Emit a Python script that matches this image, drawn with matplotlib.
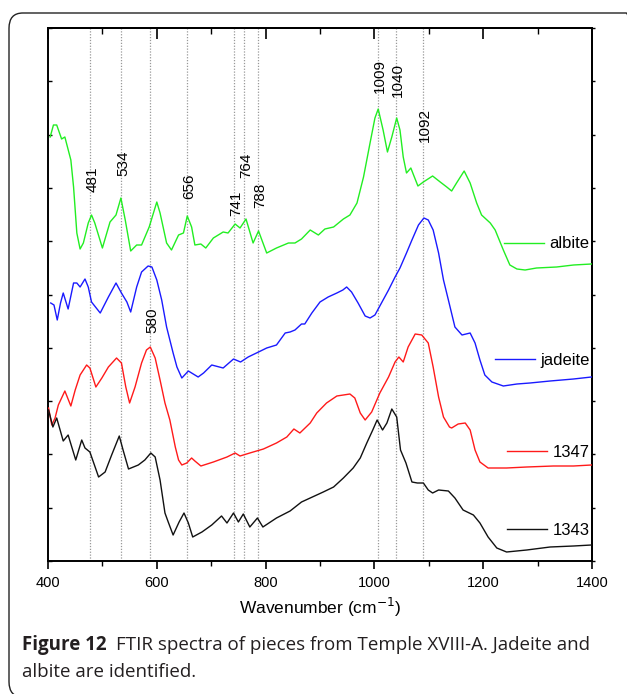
import matplotlib.pyplot as plt
import numpy as np
from matplotlib.patches import FancyBboxPatch

# spectra (wavenumber cm-1, intensity a.u.)
albite_x = [404, 410, 416, 425, 431, 442, 447, 453, 459, 465, 474, 480, 486, 500, 514, 525, 534, 542, 552, 563,
            572, 586, 600, 606, 618, 627, 640, 649, 656, 664, 670, 681, 690, 704, 722, 731, 744, 753, 764, 777,
            787, 802, 820, 842, 854, 866, 882, 897, 909, 925, 943, 955, 968, 980, 992, 1001, 1007, 1016, 1024, 1032,
            1041, 1047, 1053, 1059, 1067, 1072, 1080, 1090, 1107, 1121, 1133, 1142, 1151, 1165, 1176, 1188, 1197,
            1213, 1222, 1237, 1249, 1262, 1277, 1298, 1335, 1366, 1399]
albite_y = [424, 436, 436, 422, 424, 401, 374, 328, 312, 318, 338, 346, 338, 313, 339, 346, 363, 341, 310, 316,
            316, 334, 359, 348, 318, 311, 326, 328, 345, 334, 316, 317, 313, 323, 329, 328, 337, 333, 342, 318,
            330, 308, 313, 318, 318, 322, 331, 326, 332, 334, 342, 346, 358, 384, 418, 443, 452, 431, 409, 424,
            443, 431, 404, 388, 393, 386, 375, 379, 385, 379, 374, 370, 378, 390, 378, 358, 346,
            338, 331, 311, 296, 292, 291, 293, 294, 296, 297]

jadeite_x = [405, 411, 417, 423, 428, 437, 447, 453, 459, 468, 474, 480, 496, 511, 525, 535, 545, 552, 563, 572,
             584, 591, 600, 609, 618, 630, 637, 646, 658, 664, 676, 686, 701, 722, 741, 754, 768, 787, 802, 820,
             836, 845, 854, 866, 872, 885, 900, 915, 931, 942, 949, 958, 970, 983, 992, 1001, 1013, 1026, 1038, 1047,
             1059, 1069, 1081, 1091, 1099, 1108, 1118, 1127, 1136, 1148, 1161, 1176, 1185, 1194, 1203, 1216, 1237,
             1262, 1286, 1323, 1366, 1399]
jadeite_y = [258, 256, 241, 258, 268, 252, 278, 278, 274, 282, 274, 259, 248, 264, 278, 268, 259, 249, 274, 289,
             295, 294, 281, 261, 234, 208, 194, 183, 190, 188, 184, 188, 196, 193, 202, 199, 204, 209, 213, 216,
             228, 229, 231, 237, 237, 248, 259, 264, 268, 271, 274, 269, 258, 245, 243, 246, 258, 271, 284, 293,
             308, 321, 336, 343, 341, 331, 308, 281, 261, 234, 226, 228, 218, 201, 186, 179, 175,
             177, 178, 180, 182, 184]

s1347_x = [401, 407, 413, 419, 431, 442, 450, 459, 471, 477, 488, 499, 511, 526, 535, 543, 550, 560, 572, 581,
           588, 597, 606, 615, 624, 634, 640, 646, 655, 664, 670, 681, 704, 729, 744, 753, 771, 796, 820, 839,
           852, 863, 882, 894, 912, 931, 955, 964, 974, 983, 995, 1010, 1026, 1038, 1045, 1053, 1062, 1075, 1087,
           1099, 1108, 1118, 1127, 1138, 1142, 1154, 1167, 1176, 1185, 1194, 1209, 1243, 1280, 1329, 1366, 1399]
s1347_y = [153, 136, 143, 156, 170, 155, 171, 186, 196, 193, 174, 183, 194, 203, 198, 174, 158, 174, 198, 211,
           214, 203, 181, 158, 141, 114, 101, 96, 98, 103, 100, 95, 99, 104, 108, 105, 108, 112, 118, 124,
           132, 128, 138, 148, 158, 165, 167, 163, 148, 141, 149, 168, 184, 199, 204, 199, 214, 227, 226,
           218, 194, 164, 144, 134, 133, 137, 138, 131, 111, 99, 93, 93, 94, 95, 95, 96]

s1343_x = [401, 409, 416, 428, 437, 451, 462, 468, 477, 493, 505, 517, 531, 538, 548, 566, 578, 589, 597, 606,
           615, 621, 630, 641, 650, 658, 666, 683, 701, 719, 729, 741, 750, 759, 771, 785, 795, 820, 845, 866,
           882, 906, 925, 943, 961, 974, 986, 997, 1005, 1015, 1023, 1032, 1041, 1048, 1058, 1069, 1079, 1090,
           1099, 1107, 1118, 1136, 1148, 1163, 1182, 1194, 1209, 1225, 1243, 1280, 1323, 1366, 1399]
s1343_y = [151, 134, 143, 120, 126, 101, 121, 113, 109, 84, 89, 106, 125, 111, 92, 96, 101, 108, 104, 81,
           48, 39, 26, 39, 48, 38, 24, 29, 36, 45, 38, 48, 39, 47, 34, 43, 34, 43, 50, 59,
           63, 69, 74, 83, 93, 103, 118, 131, 141, 131, 138, 152, 144, 111, 98, 79, 78, 78,
           71, 68, 71, 70, 63, 51, 46, 38, 24, 13, 9, 11, 14, 15, 16]

series = [("albite", albite_x, albite_y, "#22ee22"),
          ("jadeite", jadeite_x, jadeite_y, "#1a1aff"),
          ("1347", s1347_x, s1347_y, "#ff1a1a"),
          ("1343", s1343_x, s1343_y, "#111111")]

# marked bands: where the dotted line sits, its label, label height
band_pos = [478, 534, 588, 655, 742, 760, 786, 1006, 1039, 1089]
band_lbl = ["481", "534", "580", "656", "741", "764", "788", "1009", "1040", "1092"]
band_txt_y = [369, 385, 228, 362, 345, 383, 353, 468, 464, 419]

# legend anchor heights (axes fraction)
leg_y = [0.595, 0.377, 0.203, 0.058]

plt.rcParams['font.family'] = ['Liberation Sans', 'DejaVu Sans']

fig = plt.figure(figsize=(6.27, 6.94), dpi=100)
W, H = 627, 694

frame = FancyBboxPatch((9 / W, 1 - 697 / H), (640 - 9) / W, (697 - 13) / H,
                       boxstyle="round,pad=0,rounding_size=0.022", transform=fig.transFigure,
                       fc="none", ec="#222222", lw=1.0, clip_on=False)
fig.patches.append(frame)

ax = fig.add_axes([48 / W, 1 - 561 / H, 544 / W, 533 / H])

for p in band_pos:
    ax.axvline(p, color="#999999", ls=(0, (1, 1.3)), lw=0.9, zorder=1)

handles = []
for name, xs, ys, c in series:
    ln, = ax.plot(xs, ys, color=c, lw=1.0, zorder=3)
    handles.append(ln)

for p, lbl, ty in zip(band_pos, band_lbl, band_txt_y):
    ax.annotate(lbl, (p, ty), xytext=(1.5, 0), textcoords="offset points",
                rotation=90, ha="center", va="bottom", fontsize=11, zorder=4)

for h, (name, *_), ly in zip(handles, series, leg_y):
    leg = ax.legend([h], [name], loc="center right", bbox_to_anchor=(0.995, ly),
                    frameon=False, fontsize=12, handlelength=2.4, handletextpad=0.3,
                    borderpad=0, borderaxespad=0)
    ax.add_artist(leg)
ax.legend_ = None

ax.set_xlim(400, 1400)
ax.set_ylim(0, 533)
ax.set_xticks(np.arange(400, 1401, 200))
ax.set_xticks(np.arange(500, 1400, 200), minor=True)
ax.set_yticks(np.linspace(0, 533, 11))
ax.set_yticklabels([])
ax.tick_params(axis="x", which="both", top=False, direction="out", labelsize=10.5, pad=5)
ax.tick_params(axis="x", which="major", length=6, width=1.2)
ax.tick_params(axis="x", which="minor", length=3.5, width=1.0)
ax.tick_params(axis="y", which="major", right=False, direction="in", length=3, width=1.0)
for s in ax.spines.values():
    s.set_linewidth(1.4)
ax.set_xlabel("Wavenumber (cm$^{-1}$)", fontsize=12.5, labelpad=4)

# top ticks point down into the plot, right ticks point outward
top = ax.secondary_xaxis("top")
top.set_xticks(np.arange(400, 1401, 200))
top.set_xticks(np.arange(500, 1400, 200), minor=True)
top.tick_params(axis="x", which="both", direction="in", labeltop=False)
top.tick_params(axis="x", which="major", length=8, width=1.2)
top.tick_params(axis="x", which="minor", length=4, width=1.0)
top.spines["top"].set_linewidth(1.4)

rgt = ax.secondary_yaxis("right")
rgt.set_yticks(np.linspace(0, 533, 11))
rgt.tick_params(axis="y", direction="out", length=2.5, width=1.0, labelright=False)
rgt.spines["right"].set_linewidth(1.4)

# caption
cap_font = ['Open Sans', 'DejaVu Sans']
t1 = fig.text(22 / W, 1 - 645 / H, "Figure 12", fontsize=13.5, fontweight="bold",
              family=cap_font, color="#231f20", va="center")
fig.canvas.draw()
bb = t1.get_window_extent(fig.canvas.get_renderer())
fig.text(bb.x1 / W + 9 / W, 1 - 645 / H, "FTIR spectra of pieces from Temple XVIII-A. Jadeite and",
         fontsize=13.5, family=cap_font, color="#231f20", va="center")
fig.text(22 / W, 1 - 672 / H, "albite are identified.", fontsize=13.5, family=cap_font,
         color="#231f20", va="center")

fig.savefig("out.png", dpi=100)
